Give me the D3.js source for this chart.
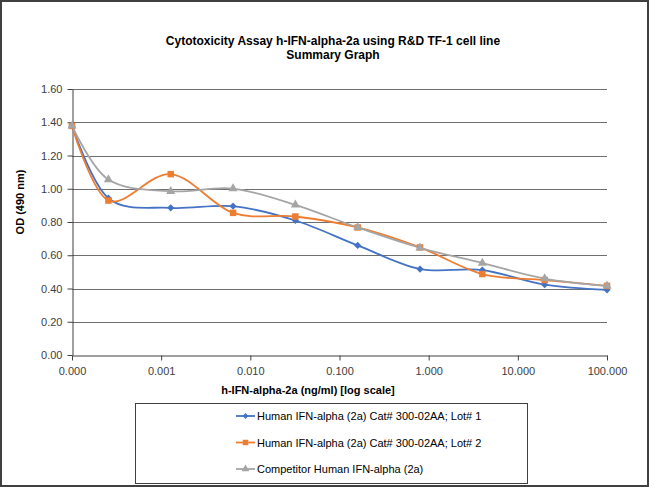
<!DOCTYPE html>
<html><head><meta charset="utf-8">
<script src="https://cdn.jsdelivr.net/npm/d3@7"></script>
<style>body{margin:0;background:#fff}svg{display:block;font-family:"Liberation Sans",Arial,sans-serif}</style>
</head><body><svg id="c" width="650" height="487"></svg>
<script>
const concentrations = [0.0001, 0.000256, 0.00128, 0.0064, 0.032, 0.16, 0.8, 4, 20, 100];
const seriesNames = ["Human IFN-alpha (2a) Cat# 300-02AA; Lot# 1", "Human IFN-alpha (2a) Cat# 300-02AA; Lot# 2", "Competitor Human IFN-alpha (2a)"];
const lot1 = [1.378, 0.943, 0.885, 0.895, 0.809, 0.659, 0.517, 0.511, 0.423, 0.392];
const lot2 = [1.378, 0.929, 1.088, 0.855, 0.833, 0.767, 0.647, 0.487, 0.451, 0.416];
const competitor = [1.378, 1.055, 0.985, 1.001, 0.903, 0.767, 0.645, 0.553, 0.460, 0.416];
const xTicks = [0.0001, 0.001, 0.01, 0.1, 1, 10, 100];
const yTicks = [0, 0.2, 0.4, 0.6, 0.8, 1.0, 1.2, 1.4, 1.6];
const colors = ["#4472C4", "#ED7D31", "#A5A5A5"];
const symbols = [d3.symbolSquare, d3.symbolSquare, d3.symbolTriangle];
const rot = [45, 0, 0];
const allSeries = [lot1, lot2, competitor];

const svg = d3.select("#c");
svg.append("rect").attr("x",1).attr("y",1).attr("width",647).attr("height",485).attr("fill","#fff").attr("stroke","#404040").attr("stroke-width",2);

const L=72, R=607, T=89, B=355;
const x = d3.scaleLog().domain([0.0001,100]).range([L,R]);
const y = d3.scaleLinear().domain([0,1.6]).range([B,T]);

svg.append("text").attr("x",333).attr("y",45).attr("text-anchor","middle").attr("font-size",12).attr("font-weight","bold").text("Cytotoxicity Assay h-IFN-alpha-2a using R&D TF-1 cell line");
svg.append("text").attr("x",333).attr("y",59).attr("text-anchor","middle").attr("font-size",12).attr("font-weight","bold").text("Summary Graph");

svg.append("g").selectAll("line").data(yTicks.filter(d=>d>0)).join("line")
  .attr("x1",L).attr("x2",R).attr("y1",d=>Math.round(y(d))+0.5).attr("y2",d=>Math.round(y(d))+0.5)
  .attr("stroke","#6e6e6e").attr("stroke-width",1);

const yAxis = svg.append("g").attr("transform",`translate(${L+0.5},0)`)
  .call(d3.axisLeft(y).tickValues(yTicks).tickFormat(d3.format(".2f")).tickSize(5).tickSizeOuter(0));
const xAxis = svg.append("g").attr("transform",`translate(0,${B+0.5})`)
  .call(d3.axisBottom(x).tickValues(xTicks).tickFormat(d3.format(".3f")).tickSize(5).tickSizeOuter(0));
[yAxis,xAxis].forEach(a=>{
  a.selectAll("path,line").attr("stroke","#404040");
  a.selectAll("text").attr("font-size",11).attr("fill","#404040").attr("font-family","'Liberation Sans',Arial,sans-serif");
});
xAxis.selectAll("text").attr("dy","1em");
yAxis.selectAll("text").attr("dx","-2");

svg.append("text").attr("transform","translate(24,202) rotate(-90)").attr("text-anchor","middle").attr("font-size",11).attr("font-weight","bold").text("OD (490 nm)");
svg.append("text").attr("x",308).attr("y",394).attr("text-anchor","middle").attr("font-size",11).attr("font-weight","bold").text("h-IFN-alpha-2a (ng/ml) [log scale]");

const line = d3.line().x((d,i)=>x(concentrations[i])).y(d=>y(d)).curve(d3.curveCardinal.tension(0));
allSeries.forEach((s,k)=>{
  svg.append("path").datum(s).attr("d",line).attr("fill","none").attr("stroke",colors[k]).attr("stroke-width",1.8);
});
const sizes=[26,42,36];
allSeries.forEach((s,k)=>{
  svg.append("g").selectAll("path").data(s).join("path")
    .attr("transform",(d,i)=>`translate(${x(concentrations[i])},${y(d)}) rotate(${rot[k]})`)
    .attr("d",d3.symbol().type(symbols[k]).size(sizes[k])).attr("fill",colors[k]);
});

svg.append("rect").attr("x",135.5).attr("y",403.5).attr("width",392).attr("height",80).attr("fill","#fff").attr("stroke","#404040");
seriesNames.forEach((n,k)=>{
  const ly = 416 + k*26.5;
  const g = svg.append("g");
  g.append("line").attr("x1",236).attr("x2",255).attr("y1",ly).attr("y2",ly).attr("stroke",colors[k]).attr("stroke-width",1.8);
  g.append("path").attr("transform",`translate(245.5,${ly}) rotate(${rot[k]})`).attr("d",d3.symbol().type(symbols[k]).size(k===0?18:k===1?30:26)).attr("fill",colors[k]);
  g.append("text").attr("x",257).attr("y",ly+4).attr("font-size",11).attr("fill","#000").text(n);
});
</script></body></html>
